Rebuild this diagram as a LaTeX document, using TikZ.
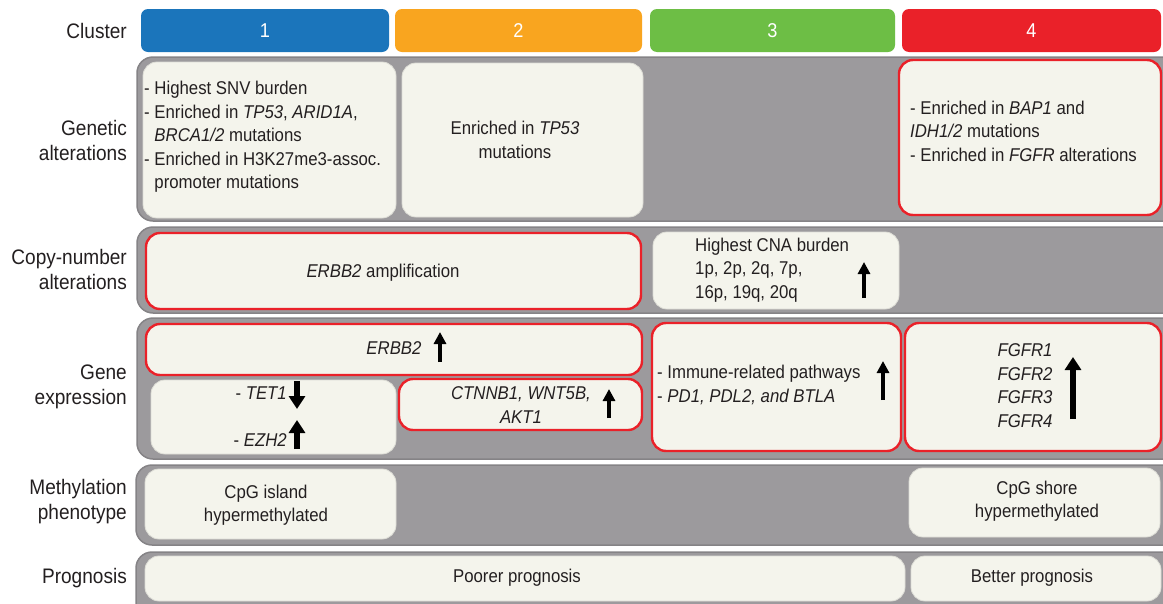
\documentclass[tikz,border=0pt]{standalone}
\usepackage{fontspec}
\setmainfont{Liberation Sans}[FakeStretch=0.907]
\usetikzlibrary{arrows.meta}
\definecolor{cblue}{HTML}{1B75BB}
\definecolor{corange}{HTML}{F9A51F}
\definecolor{cgreen}{HTML}{6DBE45}
\definecolor{cred}{HTML}{EA2129}
\definecolor{band}{HTML}{9C9A9D}
\definecolor{bandedge}{HTML}{858386}
\definecolor{cream}{HTML}{F4F4EC}
\definecolor{txt}{HTML}{231F20}
\tikzset{
 headbox/.style={rounded corners=7pt, draw=none, text=white, font=\fontsize{20}{24}\selectfont},
 bandbox/.style={rounded corners=16pt, fill=band, draw=bandedge, line width=1.5pt},
 cellbox/.style={rounded corners=14pt, fill=cream, draw=cream!80!gray, line width=0.8pt},
 redbox/.style={rounded corners=14pt, fill=cream, draw=cred, line width=2.4pt},
 body/.style={text=txt, font=\fontsize{18.5}{23.5}\selectfont, inner sep=0pt},
 rowlabel/.style={text=txt, font=\fontsize{21}{25}\selectfont, align=right, anchor=east, inner sep=0pt},
 thinarrow/.style={-{Triangle[width=12pt,length=12pt]}, line width=3.6pt, black},
 fatarrow/.style={-{Triangle[width=16pt,length=13pt]}, line width=6pt, black},
}
\newcommand{\cellnode}[7]{\node[#2, minimum width=#5-#3, minimum height=#6-#4, inner sep=0pt] (#1) at ({(#3+#5)/2},{(#4+#6)/2}) {#7};}
\begin{document}
\begin{tikzpicture}[x=1pt,y=-1pt]
\clip (0,0) rectangle (1163,603);
\fill[white] (0,0) rectangle (1163,603);
% header
\cellnode{h1}{headbox, fill=cblue}{141}{9}{389}{52}{1}
\cellnode{h2}{headbox, fill=corange}{395}{9}{642}{52}{2}
\cellnode{h3}{headbox, fill=cgreen}{650}{9}{895}{52}{3}
\cellnode{h4}{headbox, fill=cred}{902}{9}{1161}{52}{4}
% bands
\cellnode{bg}{bandbox}{137}{57}{1185}{221}{}
\cellnode{bc}{bandbox}{137}{227}{1185}{313}{}
\cellnode{be}{bandbox}{137}{318}{1185}{459}{}
\cellnode{bm}{bandbox}{136}{465}{1185}{545}{}
\cellnode{bp}{bandbox}{136}{552}{1185}{625}{}
% row labels
\node[rowlabel] (lc) at (127,31) {Cluster};
\node[rowlabel] (lg) at (127,140) {Genetic\\alterations};
\node[rowlabel] (lcn) at (127,269) {Copy-number\\alterations};
\node[rowlabel] (le) at (127,387) {Gene\\expression};
\node[rowlabel] (lm) at (127,502) {Methylation\\phenotype};
\node[rowlabel] (lp) at (127,578) {Prognosis};
% genetic alterations
\cellnode{g1}{cellbox}{143}{62}{396}{218}{}
\cellnode{g2}{cellbox}{402}{63}{643}{217}{}
\cellnode{g4}{redbox}{899}{60}{1161}{215}{}
\node[body, anchor=west, align=left] (g1t) at (144,137) {- Highest SNV burden\\- Enriched in \textit{TP53}, \textit{ARID1A},\\\phantom{- }\textit{BRCA1/2} mutations\\- Enriched in H3K27me3-assoc.\\\phantom{- }promoter mutations};
\node[body, align=center] (g2t) at (515,140) {Enriched in \textit{TP53}\\mutations};
\node[body, anchor=west, align=left] (g4t) at (910,131) {- Enriched in \textit{BAP1} and\\\textit{IDH1/2} mutations\\- Enriched in \textit{FGFR} alterations};
% copy number
\cellnode{c1}{redbox}{146}{233}{641}{309}{}
\cellnode{c3}{cellbox}{653}{232}{899}{309}{}
\node[body] (c1t) at (383,273) {\textit{ERBB2} amplification};
\node[body, anchor=west, align=left] (c3t) at (695,270) {Highest CNA burden\\1p, 2p, 2q, 7p,\\16p, 19q, 20q};
\coordinate (ca1) at (864,298); \coordinate (ca2) at (864,262);
\draw[thinarrow] (ca1) -- (ca2);
% gene expression
\cellnode{e1}{redbox}{146}{324}{642}{375}{}
\cellnode{e2}{cellbox}{151}{380}{396}{454}{}
\cellnode{e3}{redbox}{399}{379}{642}{430}{}
\cellnode{e4}{redbox}{652}{323}{901}{451}{}
\cellnode{e5}{redbox}{905}{323}{1161}{451}{}
\node[body] (e1t) at (394,348) {\textit{ERBB2}};
\coordinate (ea1) at (440,362); \coordinate (ea2) at (440,332);
\draw[thinarrow] (ea1) -- (ea2);
\node[body, anchor=east] (e2a) at (287,393) {- \textit{TET1}};
\node[body, anchor=east] (e2b) at (287,440) {- \textit{EZH2}};
\coordinate (eb1) at (297,381); \coordinate (eb2) at (297,409);
\draw[fatarrow] (eb1) -- (eb2);
\coordinate (ec1) at (297,449); \coordinate (ec2) at (297,420);
\draw[fatarrow] (ec1) -- (ec2);
\node[body, align=center] (e3t) at (521,405) {\textit{CTNNB1, WNT5B,}\\\textit{AKT1}};
\coordinate (ed1) at (609,418); \coordinate (ed2) at (609,389);
\draw[thinarrow] (ed1) -- (ed2);
\node[body, anchor=west, align=left] (e4t) at (657,385) {- Immune-related pathways\\- \textit{PD1, PDL2, and BTLA}};
\coordinate (ee1) at (883,400); \coordinate (ee2) at (883,361);
\draw[thinarrow] (ee1) -- (ee2);
\node[body, align=center] (e5t) at (1025,385.5) {\textit{FGFR1}\\\textit{FGFR2}\\\textit{FGFR3}\\\textit{FGFR4}};
\coordinate (ef1) at (1073,419); \coordinate (ef2) at (1073,357);
\draw[fatarrow] (ef1) -- (ef2);
% methylation
\cellnode{m1}{cellbox}{145}{469}{396}{539}{}
\cellnode{m4}{cellbox}{909}{468}{1160}{537}{}
\node[body, align=center] (m1t) at (266,505) {CpG island\\hypermethylated};
\node[body, align=center] (m4t) at (1037,501) {CpG shore\\hypermethylated};
% prognosis
\cellnode{p1}{cellbox}{145}{556}{905}{601}{}
\cellnode{p4}{cellbox}{911}{556}{1161}{601}{}
\node[body] (p1t) at (517,578) {Poorer prognosis};
\node[body] (p4t) at (1032,578) {Better prognosis};
\end{tikzpicture}
\end{document}
